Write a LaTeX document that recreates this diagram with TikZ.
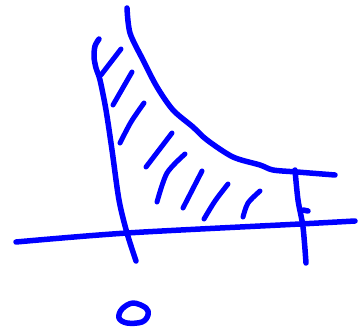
\documentclass[tikz,border=0pt]{standalone}
\usepackage{xcolor}
\usepackage{tikz}
\usetikzlibrary{calc}

\begin{document}
\begin{tikzpicture}[x=1pt, y=-1pt, ink/.style={blue, line width=5.5pt, line cap=round, line join=round}, hatch/.style={blue, line width=5pt, line cap=round}]
    \useasboundingbox (0,0) rectangle (358,328);

    % Horizontal axis
    \draw[ink] plot[smooth, tension=0.5] coordinates {(16,242) (127,233) (300,224) (355,221)};

    % Left boundary with hook at the top
    \draw[ink] plot[smooth, tension=0.5] coordinates {(99,39) (95,46) (94,57) (96,68) (100,80) (106,110) (112,150) (119,200) (127,233) (136,261)};

    % Decreasing curve
    \draw[ink] plot[smooth, tension=0.5] coordinates {(127,8) (130,33) (143,60) (157,87) (173,110) (193,127) (207,140) (233,157) (260,165) (273,170) (297,172) (335,175)};

    % Right boundary and its tick
    \draw[ink] plot[smooth, tension=0.5] coordinates {(295,170) (298,200) (303,227) (306,263)};
    \draw[ink] (303,210) -- (308,211);

    % Hatching of the area
    \draw[hatch] (101,75) -- (121,49);
    \draw[hatch] (113,105) -- (132,72);
    \draw[hatch] plot[smooth] coordinates {(120,143) (131,122) (144,103)};
    \draw[hatch] (146,167) -- (172,133);
    \draw[hatch] plot[smooth] coordinates {(157,202) (167,173) (185,154)};
    \draw[hatch] (183,208) -- (202,171);
    \draw[hatch] plot[smooth] coordinates {(204,219) (215,201) (228,184)};
    \draw[hatch] plot[smooth] coordinates {(243,217) (248,203) (260,191)};

    % Origin mark
    \draw[ink] plot[smooth cycle, tension=0.6] coordinates {(122,309) (133,303) (146,308) (148,315) (142,322) (127,323) (119,318)};
\end{tikzpicture}
\end{document}
